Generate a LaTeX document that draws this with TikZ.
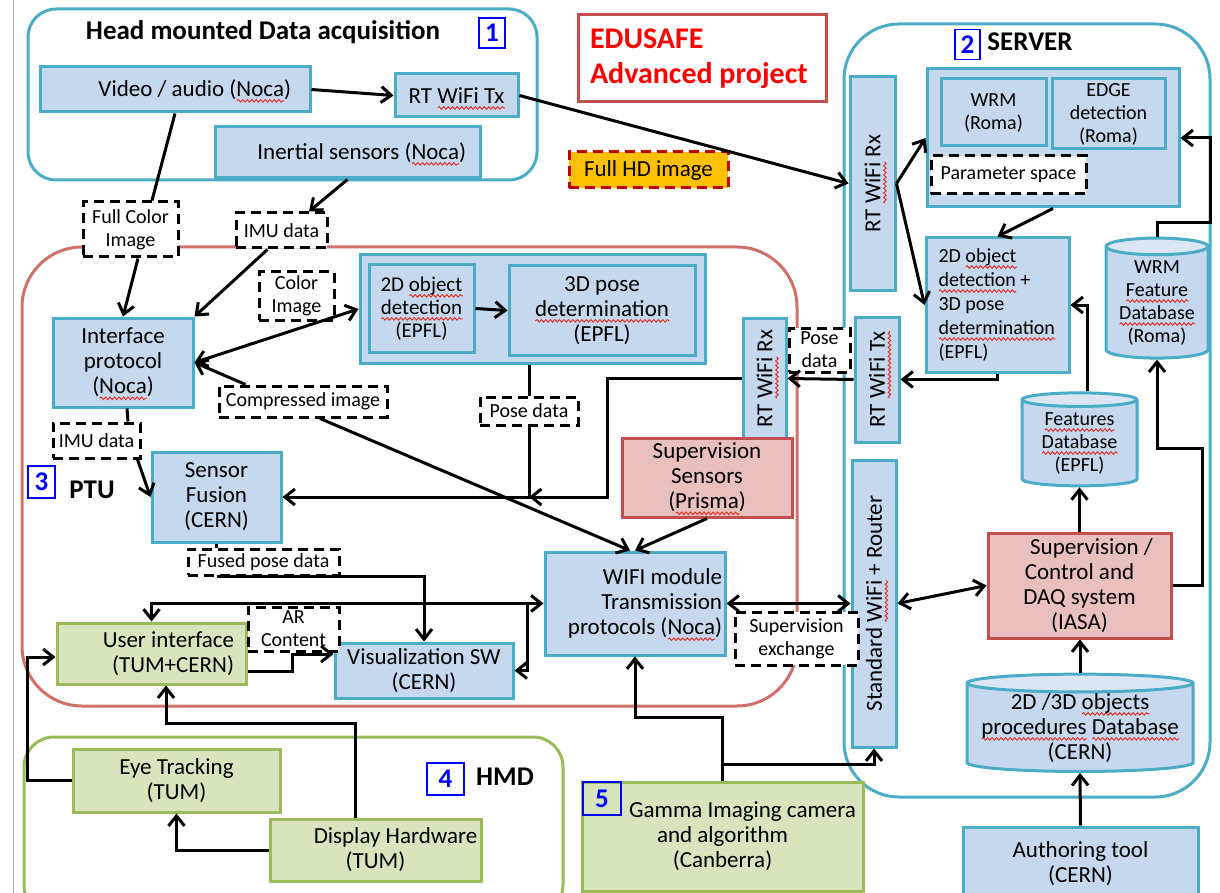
\documentclass[tikz,border=0pt]{standalone}
\usepackage{fontspec}
\setmainfont{Carlito}
\usetikzlibrary{arrows.meta,shapes.geometric,decorations.pathmorphing}

\definecolor{boxblue}{RGB}{197,216,238}
\definecolor{dbtop}{RGB}{220,230,243}
\definecolor{aqua}{RGB}{75,172,198}
\definecolor{boxred}{RGB}{233,192,191}
\definecolor{edgered}{RGB}{192,80,77}
\definecolor{ptured}{RGB}{208,112,107}
\definecolor{boxgreen}{RGB}{216,228,190}
\definecolor{edgegreen}{RGB}{155,187,89}
\definecolor{hdorange}{RGB}{255,192,0}
\definecolor{badgeblue}{RGB}{0,0,255}
\definecolor{spellred}{RGB}{235,40,30}

\newcommand{\mainfs}{\fontsize{23}{25}\selectfont}
\newcommand{\smallfs}{\fontsize{20}{23}\selectfont}
\newcommand{\headfs}{\fontsize{27}{30}\selectfont\bfseries}

%% red wavy spell mark under a word
\newlength{\sqlen}
\newcommand{\sq}[1]{\leavevmode\settowidth{\sqlen}{#1}%
  \rlap{\smash{\tikz[baseline=4.5pt]\draw[spellred, line width=0.9pt, decorate,
    decoration={snake, amplitude=1.3pt, segment length=4.5pt}] (0pt,0pt) -- (\sqlen,0pt);}}#1}

\tikzset{
  block/.style={draw=aqua, fill=boxblue, line width=3pt, inner sep=2pt, align=center, font=\mainfs},
  redblock/.style={block, draw=edgered, fill=boxred},
  greenblock/.style={block, draw=edgegreen, fill=boxgreen},
  lbl/.style={draw=black, fill=white, line width=3pt, dash pattern=on 10pt off 6pt, inner sep=1pt, align=center, font=\smallfs},
  badge/.style={draw=badgeblue, text=badgeblue, line width=1.2pt, inner sep=0pt, font=\headfs},
  db/.style={cylinder, shape border rotate=90, draw=aqua, line width=3pt, cylinder uses custom fill, cylinder body fill=boxblue, cylinder end fill=dbtop, inner sep=0pt, align=center, font=\mainfs}
}

\begin{document}
\begin{tikzpicture}[x=1pt, y=-1pt, line width=3pt, >={Straight Barb[length=10pt,width=16pt]}]
\useasboundingbox (0,0) rectangle (1220,893);

%% page edge
\draw[black!30, line width=1pt] (13,0) -- (13,893);

%% groups
\draw[aqua, line width=3pt, rounded corners=28pt] (28,9) rectangle (537,180);          %% 1 head mounted
\draw[aqua, line width=3pt, rounded corners=55pt] (844,24) rectangle (1210,797);       %% 2 server
\draw[ptured, line width=3pt, rounded corners=60pt] (22,247) rectangle (797,706);      %% 3 PTU
\draw[edgegreen, line width=3pt, rounded corners=30pt] (24,737) rectangle (563,915);   %% 4 HMD

%% group titles
\node[font=\headfs] (t1) at (263,32) {Head mounted Data acquisition};
\node[badge, minimum width=26pt, minimum height=30pt] (b1) at (492,33) {1};
\node[font=\headfs] (t2) at (1030,42) {SERVER};
\node[badge, minimum width=25pt, minimum height=30pt] (b2) at (967.5,44.5) {2};
\node[font=\headfs] (t3) at (92,490) {PTU};
\node[badge, minimum width=27pt, minimum height=32pt] (b3) at (41.5,482) {3};
\node[font=\headfs] (t4) at (505,777) {HMD};
\node[badge, minimum width=37pt, minimum height=32pt] (b4) at (445.5,779) {4};

%% project title
\node[draw=edgered, line width=3pt, text=red, font=\fontsize{30}{35}\selectfont\bfseries, align=flush left, text width=224pt, minimum width=248pt, minimum height=87pt] (edu) at (702,58.5) {EDUSAFE\\Advanced project};
\node[draw=red!75!black, fill=hdorange, line width=3pt, dash pattern=on 10pt off 6pt, font=\mainfs, minimum width=159pt, minimum height=36pt] (fhd) at (648.5,170) {Full HD image};

%% head mounted data acquisition
\node[block, minimum width=270pt, minimum height=45pt, text width=232pt, align=flush right] (vid) at (175,89.5) {Video / audio (\sq{Noca})};
\node[block, minimum width=123pt, minimum height=43pt] (txh) at (456.5,95.5) {RT \sq{WiFi Tx}};
\node[block, minimum width=265pt, minimum height=51pt, text width=237pt, align=flush right] (ins) at (347.5,152.5) {Inertial sensors (\sq{Noca})};

%% PTU
\node[block, minimum width=140pt, minimum height=89pt] (ifp) at (123,362.5) {Interface\\protocol\\(\sq{Noca})};
\node[block, minimum width=345pt, minimum height=108pt] (pgrp) at (532.5,309) {};
\node[block, minimum width=105pt, minimum height=87pt, font=\fontsize{21}{23}\selectfont] (det2) at (421.5,308.5) {2D \sq{object}\\\sq{detection}\\(EPFL)};
\node[block, minimum width=186pt, minimum height=89pt] (pose3) at (602,310.5) {3D pose\\\sq{determination}\\(EPFL)};
\node[block, minimum width=129pt, minimum height=90pt] (sfu) at (216.5,497) {Sensor\\Fusion\\(CERN)};
\node[block, rotate=90, minimum width=121pt, minimum height=43pt] (rxp) at (764.5,378.5) {RT \sq{WiFi} Rx};
\node[redblock, minimum width=170pt, minimum height=79pt] (sups) at (707,477.5) {Supervision\\Sensors\\(\sq{Prisma})};
\node[block, minimum width=180pt, minimum height=103pt, text width=174pt, align=flush right] (wifi) at (635,603.5) {WIFI module\\Transmission\\protocols (\sq{Noca})};
\node[block, minimum width=178pt, minimum height=55pt] (vis) at (424,670.5) {Visualization SW\\(CERN)};
\node[greenblock, minimum width=189pt, minimum height=61pt, text width=165pt, align=flush right] (ui) at (151.5,653.5) {User interface\\(TUM+CERN)};

%% HMD
\node[greenblock, minimum width=207pt, minimum height=63pt] (eye) at (176.5,780.5) {Eye Tracking\\(TUM)};
\node[greenblock, minimum width=211pt, minimum height=62pt] (disp) at (375.5,850) {\hspace*{40pt}Display Hardware\\(TUM)};

%% gamma camera
\node[greenblock, minimum width=281pt, minimum height=109pt] (gam) at (722.5,836.5) {\hspace*{40pt}Gamma Imaging camera\\and algorithm\\(Canberra)};
\node[badge, minimum width=38pt, minimum height=33pt] (b5) at (602,798.5) {5};

%% server
\node[block, rotate=90, minimum width=213pt, minimum height=45pt] (rxs) at (872.5,183.5) {RT \sq{WiFi} Rx};
\node[block, rotate=90, minimum width=125pt, minimum height=44pt] (txs) at (877,379.5) {RT \sq{WiFi Tx}};
\node[block, rotate=90, minimum width=287pt, minimum height=44pt] (swr) at (874,603.5) {Standard \sq{WiFi} + Router};
\node[block, minimum width=252pt, minimum height=138pt] (roma) at (1053,138) {};
\node[block, minimum width=105pt, minimum height=67pt, font=\smallfs] (wrm) at (993.5,112.5) {WRM\\(Roma)};
\node[block, minimum width=113pt, minimum height=70pt, inner sep=1pt, font=\smallfs] (edge) at (1108.5,114) {EDGE\\detection\\(Roma)};
\node[block, minimum width=143pt, minimum height=134pt, font=\fontsize{20}{24}\selectfont, text width=118pt, align=flush left] (epfls) at (997.5,305) {2D \sq{object}\\\sq{detection} +\\3D pose\\\sq{determination}\\(EPFL)};
\node[redblock, minimum width=183pt, minimum height=105pt] (daq) at (1079.5,585.5) {\hspace*{24pt}Supervision /\\Control and\\DAQ system\\(IASA)};
\node[db, minimum width=115pt, minimum height=93pt, aspect=0.18, font=\smallfs] (fdb) at (1079.5,443.5) {\sq{Features}\\\sq{Database}\\(EPFL)};
\node[db, minimum width=102pt, minimum height=120pt, aspect=0.22, font=\smallfs] (wdb) at (1157,303) {WRM\\\sq{Feature}\\\sq{Database}\\(Roma)};
\node[db, minimum width=226pt, minimum height=80pt, aspect=0.09] (odb) at (1080,728) {2D /3D \sq{objects}\\\sq{procedures} \sq{Database}\\(CERN)};
\node[block, minimum width=235pt, minimum height=74pt] (auth) at (1080.5,864) {Authoring tool\\(CERN)};

%% data labels
\node[lbl, minimum width=95pt, minimum height=55pt] (lfc) at (130.5,229.5) {Full Color\\Image};
\node[lbl, minimum width=91pt, minimum height=35pt] (limu1) at (281.5,230.5) {IMU data};
\node[lbl, minimum width=75pt, minimum height=48pt] (lci) at (296.5,296) {Color\\Image};
\node[lbl, minimum width=168pt, minimum height=31pt] (lcomp) at (303,401.5) {Compressed image};
\node[lbl, minimum width=98pt, minimum height=28pt] (lpose1) at (529,411) {Pose data};
\node[lbl, minimum width=87pt, minimum height=35pt] (limu2) at (96.5,440.5) {IMU data};
\node[lbl, minimum width=61pt, minimum height=44pt] (lpose2) at (819.5,350) {Pose\\data};
\node[lbl, minimum width=151pt, minimum height=26pt] (lfused) at (263.5,562) {Fused pose data};
\node[lbl, minimum width=91pt, minimum height=44pt] (lar) at (293.5,629) {AR\\Content};
\node[lbl, minimum width=123pt, minimum height=53pt] (lsup) at (796.5,638.5) {Supervision\\exchange};
\node[lbl, minimum width=155pt, minimum height=38pt] (lpar) at (1008.5,175) {Parameter space};

%% junctions
\coordinate (pj) at (lpose1.south |- sfu.east);
\coordinate (bus) at ([xshift=-16pt]wifi.west);

%% connectors head mounted
\draw[->] (vid.east) -- (txh.west);
\draw[->] (txh.east) -- (rxs.north);
\draw (vid.south) -- ([xshift=21.5pt]lfc.north);
\draw[->] ([xshift=7.5pt]lfc.south) -- (ifp.north);
\draw[->] (ins.south) -- ([xshift=27.5pt]limu1.north);
\draw[->] ([xshift=-14pt]limu1.south) -- (ifp.north east);

%% connectors PTU
\draw[<->] (ifp.east) -- (pgrp.west);
\draw[->] ([xshift=28pt]lcomp.north west) -- (ifp.east);
\draw[->] ([xshift=17pt]lcomp.south) -- ([xshift=-5pt]wifi.north);
\draw[->] (det2.east) -- (pose3.west);
\draw (lpose1.north) -- (lpose1.north |- pgrp.south);
\draw[->] (lpose1.south) |- (sfu.east);
\draw[->] (rxp.north) -| ([xshift=78pt]pj) -- (pj);
\draw ([xshift=4pt]ifp.south) -- ([xshift=31.5pt]limu2.north);
\draw[->] ([xshift=41pt]limu2.south) -- (sfu.west);
\draw (sfu.south) -- (sfu.south |- lfused.north);
\draw[->] ([xshift=-47pt]lfused.south) -| (vis.north);
\draw[->] (sups.south) -- (wifi.north);
\draw[->] (bus) -- (wifi.west);
\draw[->] (bus) -| (ui.north);
\draw[->] (bus) |- (vis.east);
\draw[->] ([yshift=-18pt]ui.east) -- ++(45,0) |- ([yshift=16.5pt]vis.west);
\draw[<->] (wifi.east) -- (swr.north);

%% connectors HMD
\draw[->] (eye.west) -- ++(-44,0) |- ([yshift=-3.5pt]ui.west);
\draw[->] (disp.west) -| (eye.south);
\draw[->] ([xshift=-20.5pt]disp.north) -- ++(0,-94) -| ([xshift=14.5pt]ui.south);
\draw[->] (gam.north) -- ++(0,-63) -| (wifi.south);
\draw[->] ([yshift=16pt]gam.north) -| (swr.west);

%% connectors server
\draw[->] (txs.north) -- (rxp.south);
\draw[->] (rxs.south) -- (roma.west);
\draw[->] (rxs.south) -- (epfls.west);
\draw[->] (roma.south) -- (epfls.north);
\draw[->] (epfls.south) |- (txs.south);
\draw[->] ([xshift=7.5pt]fdb.north) |- (epfls.east);
\draw[->] (daq.north) -- (fdb.south);
\draw[->] (odb.north) -- (odb.north |- daq.south);
\draw[->] (auth.north) -- (odb.south);
\draw[<->] (swr.south) -- (daq.west);
\draw[->] (daq.east) -| (1202,448) -| (wdb.south);
\draw[->] (wdb.north) |- (1210,223) |- (roma.east);
            \end{tikzpicture}
\end{document}
